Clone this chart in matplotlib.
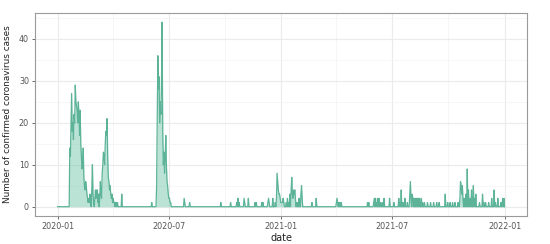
import numpy as np
import pandas as pd
import matplotlib
matplotlib.use("Agg")
import matplotlib.pyplot as plt
import matplotlib.dates as mdates

# daily confirmed cases; days not listed below had 0 cases
start_date = "2020-01-01"
end_date = "2022-01-01"

# first wave (days since start_date, cases)
wave1_days = list(range(20, 93))
wave1_cases = [14, 12, 20, 27, 18, 20, 16, 22, 20, 29, 25, 24, 23, 20, 25, 22,
               17, 23, 15, 12, 9, 10, 14, 7, 5, 4, 6, 5, 3, 2, 1, 2, 1, 3, 1, 0,
               4, 10, 3, 1, 0, 2, 4, 2, 4, 4, 1, 3, 0, 2, 6, 3, 2, 8, 10, 13, 12,
               10, 15, 18, 17, 21, 12, 7, 6, 4, 5, 3, 2, 3, 1, 2, 1]

# second wave
wave2_days = list(range(162, 186))
wave2_cases = [5, 20, 36, 28, 31, 20, 25, 22, 30, 44, 18, 10, 13, 8, 12, 17,
               10, 6, 5, 3, 2, 2, 1, 1]

# sporadic cases
other_days = [93, 95, 96, 98, 105, 154, 207, 208, 216, 267, 283, 293, 295, 297,
              305, 306, 312, 323, 325, 334, 336, 344, 345, 346, 352, 356, 358,
              359, 360, 361, 362, 363, 364, 365, 366, 367, 368, 369, 370, 374,
              376, 378, 380, 382, 383, 384, 385, 386, 387, 388, 389, 391, 393,
              395, 398, 399, 400, 416, 423, 456, 457, 458, 460, 462, 464, 507,
              509, 517, 518, 520, 522, 524, 526, 528, 531, 534, 543, 550, 558,
              560, 562, 565, 568, 572, 576, 577, 578, 580, 581, 583, 586, 588,
              590, 592, 595, 597, 600, 605, 610, 615, 620, 624, 634, 638, 642,
              646, 650, 655, 658, 659, 660, 661, 662, 663, 665, 668, 670, 672,
              675, 677, 680, 682, 684, 690, 695, 697, 700, 705, 710, 714, 716,
              720, 725, 728, 730]
other_cases = [1, 1, 1, 1, 3, 1, 2, 1, 1, 1, 1, 1, 2, 1,
               2, 1, 2, 1, 1, 1, 1, 1, 2, 1, 2, 1, 2,
               8, 6, 4, 3, 3, 2, 1, 1, 1, 1, 2, 1, 1,
               2, 1, 3, 4, 7, 3, 2, 4, 3, 4, 2, 1, 1,
               2, 3, 5, 2, 1, 2, 1, 2, 1, 1, 1, 1, 1,
               1, 1, 2, 2, 1, 2, 2, 1, 1, 2, 2, 1, 2,
               1, 4, 1, 2, 1, 3, 6, 2, 3, 2, 2, 2, 2,
               2, 2, 2, 1, 1, 1, 1, 1, 1, 1, 3, 1, 1,
               1, 1, 1, 2, 6, 5, 3, 5, 2, 2, 3, 9, 4,
               2, 4, 5, 2, 3, 1, 3, 1, 1, 1, 2, 4, 1,
               2, 1, 2, 2]

dates = pd.date_range(start_date, end_date, freq="D")
cases = np.zeros(len(dates))
for d, c in zip(wave1_days + wave2_days + other_days,
                wave1_cases + wave2_cases + other_cases):
    cases[d] = c

fill_col = "#66c2a5"
line_col = "#5cb398"

fig = plt.figure(figsize=(5.5, 2.44), dpi=100)
ax = fig.add_axes([0.064, 0.115, 0.894, 0.832])

ax.fill_between(dates, cases, 0, color=fill_col, alpha=0.45, linewidth=0)
ax.plot(dates, cases, color=line_col, linewidth=0.9)

ax.set_yticks([0, 10, 20, 30, 40])
ax.set_yticks([5, 15, 25, 35, 45], minor=True)
major_x = pd.to_datetime(["2020-01-01", "2020-07-01", "2021-01-01",
                          "2021-07-01", "2022-01-01"])
minor_x = pd.to_datetime(["2019-10-01", "2020-04-01", "2020-10-01",
                          "2021-04-01", "2021-10-01"])
ax.set_xticks(major_x)
ax.set_xticks(minor_x, minor=True)
ax.xaxis.set_major_formatter(mdates.DateFormatter("%Y-%m"))

# ggplot-style 5% expansion, set after the ticks so they don't widen it
span = dates[-1] - dates[0]
ax.set_xlim(dates[0] - span * 0.05, dates[-1] + span * 0.05)
ymax = cases.max()
ax.set_ylim(-ymax * 0.05, ymax * 1.05)

ax.grid(True, which="major", color="#ebebeb", linewidth=0.8)
ax.grid(True, which="minor", color="#f3f3f3", linewidth=0.5)
ax.set_axisbelow(True)

for s in ax.spines.values():
    s.set_color("#9a9a9a")
    s.set_linewidth(0.8)

ax.tick_params(which="major", length=2.5, width=0.6, color="#555555",
               labelsize=5.8, labelcolor="#555555", pad=2)
ax.tick_params(which="minor", length=0)

ax.set_xlabel("date", fontsize=7, color="#222222", labelpad=1.5)
ax.set_ylabel("Number of confirmed coronavirus cases", fontsize=6.4,
              color="#222222", labelpad=5)

fig.savefig("out.png", dpi=100)
